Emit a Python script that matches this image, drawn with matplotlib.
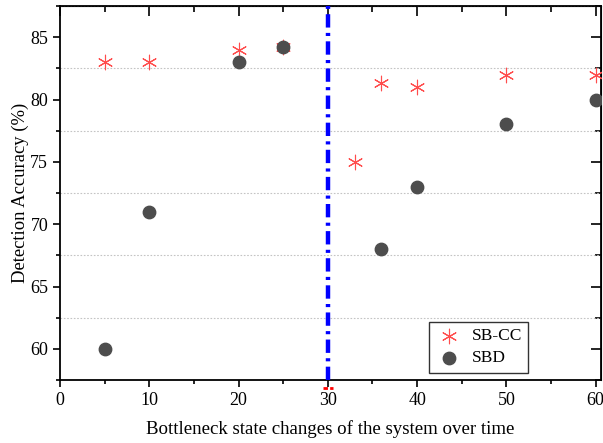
import matplotlib.pyplot as plt
from matplotlib.ticker import MultipleLocator

plt.rcParams['font.family'] = ['Liberation Serif', 'DejaVu Serif']

# SB-CC
sbcc_x = [5, 10, 20, 25, 33, 36, 40, 50, 60]
sbcc_y = [83, 83, 84, 84.2, 75, 81.3, 81, 82, 82]
# SBD
sbd_x = [5, 10, 20, 25, 36, 40, 50, 60]
sbd_y = [60, 71, 83, 84.2, 68, 73, 78, 80]

fig = plt.figure(figsize=(6.03, 4.43), dpi=100)
ax = fig.add_axes([60 / 603, 63 / 443, 541 / 603, 374 / 443])

ax.set_xlim(0, 60.6)
ax.set_ylim(57.5, 87.5)
ax.xaxis.set_major_locator(MultipleLocator(10))
ax.xaxis.set_minor_locator(MultipleLocator(5))
ax.yaxis.set_major_locator(MultipleLocator(5))
ax.yaxis.set_minor_locator(MultipleLocator(2.5))

ax.grid(True, which='minor', axis='y', color='#c4c4c4', linestyle=(0, (1.5, 1.5)), linewidth=0.8)

ax.axvline(30, color='#0000ff', linewidth=3.2, linestyle=(0, (3, 1.2, 0.7, 1.2)), zorder=3)
# red mark just under the axis at x=30
ax.plot([29.45, 30.55], [56.85, 56.85], color='red', linewidth=2,
        linestyle=(0, (1.6, 0.8)), clip_on=False)

ax.scatter(sbcc_x, sbcc_y, marker=(6, 2, 0), s=110, color='#ff4d4d', linewidths=0.8,
           label='SB-CC', zorder=4)
ax.scatter(sbd_x, sbd_y, marker='o', s=80, color='#4d4d4d', label='SBD', zorder=4)

for s in ax.spines.values():
    s.set_linewidth(1.3)

ax.tick_params(which='both', direction='out', labelsize=13, width=1.2)
ax.tick_params(which='major', length=5)
ax.tick_params(which='minor', length=3)

ax2 = ax.secondary_xaxis('top')
ax2.xaxis.set_major_locator(MultipleLocator(10))
ax2.xaxis.set_minor_locator(MultipleLocator(5))
ax2.tick_params(which='both', direction='in', labeltop=False, width=1.2)
ax2.tick_params(which='major', length=7)
ax2.tick_params(which='minor', length=4)
ay2 = ax.secondary_yaxis('right')
ay2.yaxis.set_major_locator(MultipleLocator(5))
ay2.yaxis.set_minor_locator(MultipleLocator(2.5))
ay2.tick_params(which='both', direction='in', labelright=False, width=1.2)
ay2.tick_params(which='major', length=7)
ay2.tick_params(which='minor', length=4)

ax.set_xlabel('Bottleneck state changes of the system over time', fontsize=13.6, labelpad=8)
ax.set_ylabel('Detection Accuracy (%)', fontsize=13.4, labelpad=1)

leg = ax.legend(loc='lower right', bbox_to_anchor=(0.865, 0.02), fontsize=12.5, frameon=True,
                fancybox=False, edgecolor='black', handletextpad=0.5, borderpad=0.35,
                labelspacing=0.35, handlelength=1.6, borderaxespad=0)
leg.get_frame().set_linewidth(1.0)

fig.savefig('out.png', dpi=100)
